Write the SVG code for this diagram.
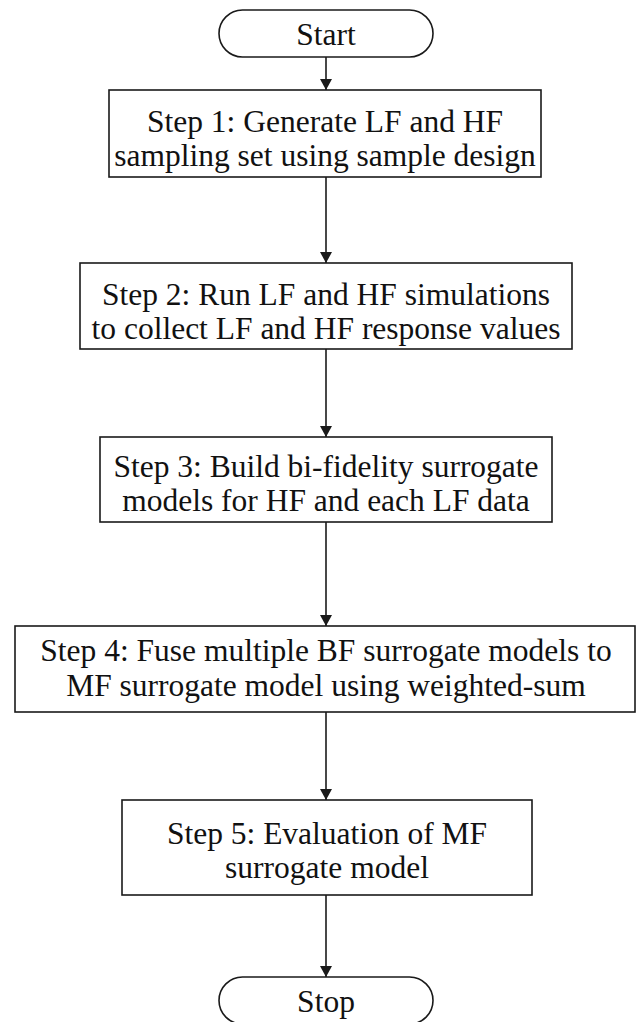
<svg xmlns="http://www.w3.org/2000/svg" width="637" height="1022" viewBox="0 0 637 1022">
<style>
.n{fill:#fff;stroke:#1a1a1a;stroke-width:1.6}
.t{font-size:31.5px;fill:#111;text-anchor:middle}
.c{stroke:#1a1a1a;stroke-width:1.6;fill:none;marker-end:url(#ah)}
</style>
<defs>
<marker id="ah" markerUnits="userSpaceOnUse" markerWidth="12" markerHeight="16" refX="11" refY="6" orient="auto" viewBox="0 0 12 12">
<path d="M0,0 L11,6 L0,12 z" fill="#1a1a1a"/>
</marker>
</defs>
<rect width="637" height="1022" fill="#fff"/>
<g id="connectors">
<path class="c" d="M326,57 V90"/>
<path class="c" d="M326,177 V263"/>
<path class="c" d="M326,349 V437"/>
<path class="c" d="M326,522 V626"/>
<path class="c" d="M326,712 V800"/>
<path class="c" d="M326,895 V977"/>
</g>
<g font-family="'Liberation Serif', Tinos, 'Times New Roman', serif">
<g id="start">
<rect class="n" x="219" y="10" width="214" height="47" rx="23.5"/>
<text class="t" x="326" y="45">Start</text>
</g>
<g id="step1">
<rect class="n" x="109" y="90" width="432" height="87"/>
<text class="t" x="325" y="132">Step 1: Generate LF and HF</text>
<text class="t" x="325" y="166">sampling set using sample design</text>
</g>
<g id="step2">
<rect class="n" x="80" y="263" width="492" height="86"/>
<text class="t" x="326" y="305">Step 2: Run LF and HF simulations</text>
<text class="t" x="326" y="339">to collect LF and HF response values</text>
</g>
<g id="step3">
<rect class="n" x="100" y="437" width="452" height="85"/>
<text class="t" x="326" y="477">Step 3: Build bi-fidelity surrogate</text>
<text class="t" x="326" y="511">models for HF and each LF data</text>
</g>
<g id="step4">
<rect class="n" x="15" y="626" width="620" height="86"/>
<text class="t" x="326" y="661">Step 4: Fuse multiple BF surrogate models to</text>
<text class="t" x="326" y="696">MF surrogate model using weighted-sum</text>
</g>
<g id="step5">
<rect class="n" x="122" y="800" width="410" height="95"/>
<text class="t" x="327" y="844">Step 5: Evaluation of MF</text>
<text class="t" x="327" y="878">surrogate model</text>
</g>
<g id="stop">
<rect class="n" x="219" y="977" width="214" height="47" rx="23.5"/>
<text class="t" x="326" y="1012">Stop</text>
</g>
</g>
</svg>
